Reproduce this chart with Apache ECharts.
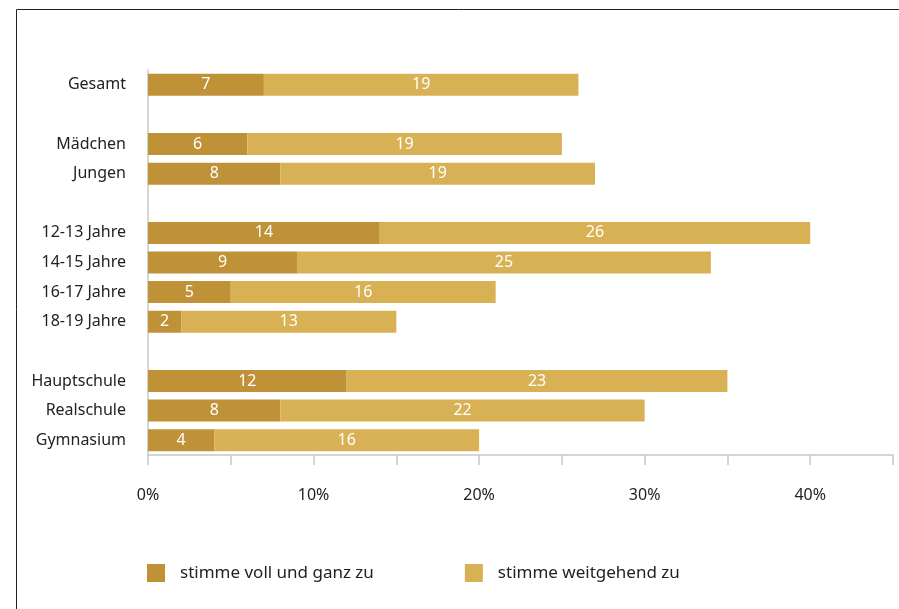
<!DOCTYPE html>
<html>
<head>
<meta charset="utf-8">
<script src="https://cdn.jsdelivr.net/npm/echarts@6/dist/echarts.min.js"></script>
<style>
  html, body { margin: 0; padding: 0; background: #fff; }
  #chart { width: 899px; height: 609px; }
</style>
</head>
<body>
<div id="chart"></div>
<script>
// blank entries make the gaps between the groups
const categories = ['Gesamt', '', 'Mädchen', 'Jungen', '', '12-13 Jahre', '14-15 Jahre', '16-17 Jahre', '18-19 Jahre', '', 'Hauptschule', 'Realschule', 'Gymnasium']
const vollUndGanz = [7, null, 6, 8, null, 14, 9, 5, 2, null, 12, 8, 4]
const weitgehend = [19, null, 19, 19, null, 26, 25, 16, 13, null, 23, 22, 16]
const seriesNames = ['stimme voll und ganz zu', 'stimme weitgehend zu']
const tickLabels = ['0%', '10%', '20%', '30%', '40%']

const font = 'Noto Sans'
const chart = echarts.init(document.getElementById('chart'))

const barLabel = {
  show: true,
  position: 'inside',
  color: '#fff',
  fontFamily: font,
  fontSize: 16
}

chart.setOption({
  animation: false,
  graphic: [{
    type: 'rect',
    shape: { x: 16.5, y: 9.5, width: 900, height: 620 },
    style: { fill: 'none', stroke: '#222', lineWidth: 1 }
  }],
  grid: { left: 148, right: 6, top: 70, bottom: 154 },
  legend: {
    left: 142,
    top: 559,
    itemWidth: 18,
    itemHeight: 18,
    itemGap: 91,
    icon: 'rect',
    textStyle: { fontFamily: font, fontSize: 17, color: '#222', padding: [0, 0, 0, 10] },
    data: seriesNames
  },
  xAxis: {
    type: 'value',
    min: 0,
    max: 45,
    interval: 5,
    axisLine: { show: true, lineStyle: { color: '#c8c8c8', width: 1.5 } },
    axisTick: { show: true, length: 10, lineStyle: { color: '#c8c8c8', width: 1.5 } },
    splitLine: { show: false },
    axisLabel: {
      margin: 32,
      fontFamily: font,
      fontSize: 16,
      color: '#222',
      formatter: v => (v % 10 === 0 ? tickLabels[v / 10] : '')
    }
  },
  yAxis: {
    type: 'category',
    inverse: true,
    data: categories,
    axisLine: { show: true, lineStyle: { color: '#c8c8c8', width: 1.5 } },
    axisTick: { show: false },
    axisLabel: { margin: 22, fontFamily: font, fontSize: 16, color: '#222' }
  },
  series: [
    {
      name: seriesNames[0],
      type: 'bar',
      stack: 'total',
      barWidth: 22,
      data: vollUndGanz,
      itemStyle: { color: '#bf9238' },
      label: barLabel
    },
    {
      name: seriesNames[1],
      type: 'bar',
      stack: 'total',
      barWidth: 22,
      data: weitgehend,
      itemStyle: { color: '#d9b155' },
      label: barLabel
    }
  ]
})
</script>
</body>
</html>
